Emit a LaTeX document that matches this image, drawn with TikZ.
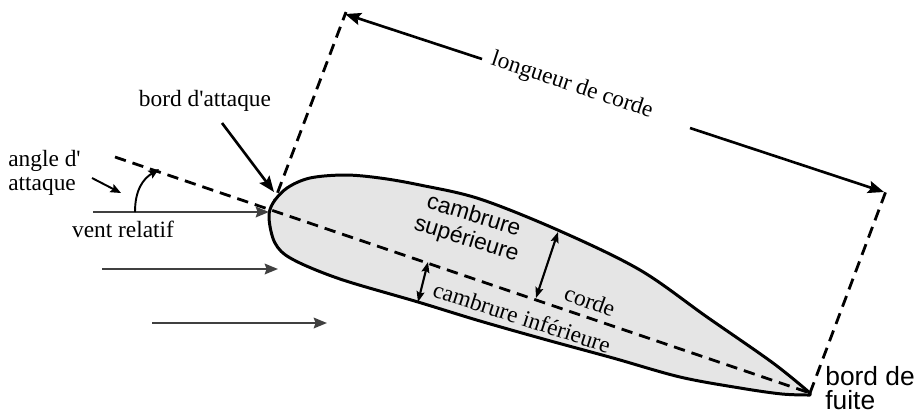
\documentclass[tikz,border=0pt]{standalone}
\usepackage{fontspec}
\setmainfont{Liberation Serif}
\setsansfont{Liberation Sans}
\usetikzlibrary{arrows.meta}

\begin{document}
\begin{tikzpicture}[x=0.02cm,y=-0.02cm,
    contour/.style={line width=1.7pt,fill=black!10,line join=round},
    pointille/.style={line width=1.6pt,dash pattern=on 6.5pt off 4pt},
    cote/.style={line width=1.5pt,-{Stealth[length=9pt,width=7pt,inset=1.5pt]}},
    flux/.style={line width=1.4pt,black!75,-{Stealth[length=7.5pt,width=6pt,inset=1pt]}},
    fleche/.style={line width=1.1pt,-{Stealth[length=6pt,width=5pt,inset=1pt]}},
    camb/.style={line width=1.2pt,{Stealth[length=6pt,width=4.5pt,inset=1pt]}-{Stealth[length=6pt,width=4.5pt,inset=1pt]}},
    etiq/.style={font=\fontsize{13.3}{13.6}\selectfont,inner sep=0pt},
    etiqsf/.style={font=\sffamily\fontsize{13}{14}\selectfont,inner sep=0pt}]
  \useasboundingbox (0,0) rectangle (920,414);

  \coordinate (ba) at (271,210);
  \coordinate (bf) at (810,393);
  \coordinate (cordeG) at (115,157);
  \coordinate (perpA) at (346,12);
  \coordinate (perpF) at (886,191);

  % lignes de rappel
  \draw[pointille] (ba) -- (perpA);
  \draw[pointille] (bf) -- (perpF);

  % profil
  \draw[contour] plot[smooth,tension=0.55] coordinates {
    (810,393) (773,363) (707,317) (640,270) (560,231) (480,199) (420,185)
    (380,178) (345,175) (310,178) (287,188) (273,203) (269,218) (275,243)
    (292,259) (340,279) (418,302) (480,321) (547,340) (613,358) (680,377)
    (740,388) (782,394) (810,395)} -- cycle;

  % corde
  \draw[pointille] (cordeG) -- (bf);

  % longueur de corde
  \coordinate (lcA) at (345,14);
  \coordinate (lc1) at (482,59);
  \coordinate (lc2) at (690,128);
  \coordinate (lcB) at (884,192);
  \draw[cote] (lc1) -- (lcA);
  \draw[cote] (lc2) -- (lcB);
  \node[etiq,rotate=-18.3] (longueur) at (572,86) {longueur de corde};

  % bord d'attaque
  \node[etiq] (lblBA) at (205,101) {bord d\textquotesingle attaque};
  \coordinate (baQ) at (222,123);
  \coordinate (baT) at (274,192);
  \draw[cote] (baQ) -- (baT);

  % vent relatif
  \coordinate (vr0) at (93,212);
  \coordinate (vr1) at (269,212);
  \draw[flux] (vr0) -- (vr1);
  \node[etiq] (ventrel) at (123,229) {vent relatif};
  \coordinate (fa0) at (102,269);
  \coordinate (fa1) at (278,269);
  \coordinate (fb0) at (152,323);
  \coordinate (fb1) at (327,323);
  \draw[flux] (fa0) -- (fa1);
  \draw[flux] (fb0) -- (fb1);

  % angle d'attaque
  \coordinate (arc0) at (135,212);
  \coordinate (arc1) at (159,169);
  \draw[fleche] (arc0) .. controls (135,190) and (143,179) .. (arc1);
  \node[etiq,align=left,anchor=west] (angle) at (8,173) {angle d\textquotesingle\\attaque};
  \coordinate (an0) at (92,178);
  \coordinate (an1) at (121,193);
  \draw[fleche] (an0) -- (an1);

  % cambrures
  \coordinate (csH) at (558,232);
  \coordinate (csB) at (536,298);
  \coordinate (ciH) at (428,262);
  \coordinate (ciB) at (418,302);
  \draw[camb] (csH) -- (csB);
  \draw[camb] (ciH) -- (ciB);
  \node[etiqsf,align=center,rotate=-17] (sup) at (470,228) {cambrure\\supérieure};
  \node[etiq,rotate=-20] (corde) at (590,301) {corde};
  \node[etiq,rotate=-18] (inf) at (522,317) {cambrure inférieure};

  % bord de fuite
  \node[font=\sffamily\fontsize{15}{13.6}\selectfont,inner sep=0pt,align=left,anchor=west]
    (lblBF) at (825,388) {bord de\\fuite};
\end{tikzpicture}
\end{document}
